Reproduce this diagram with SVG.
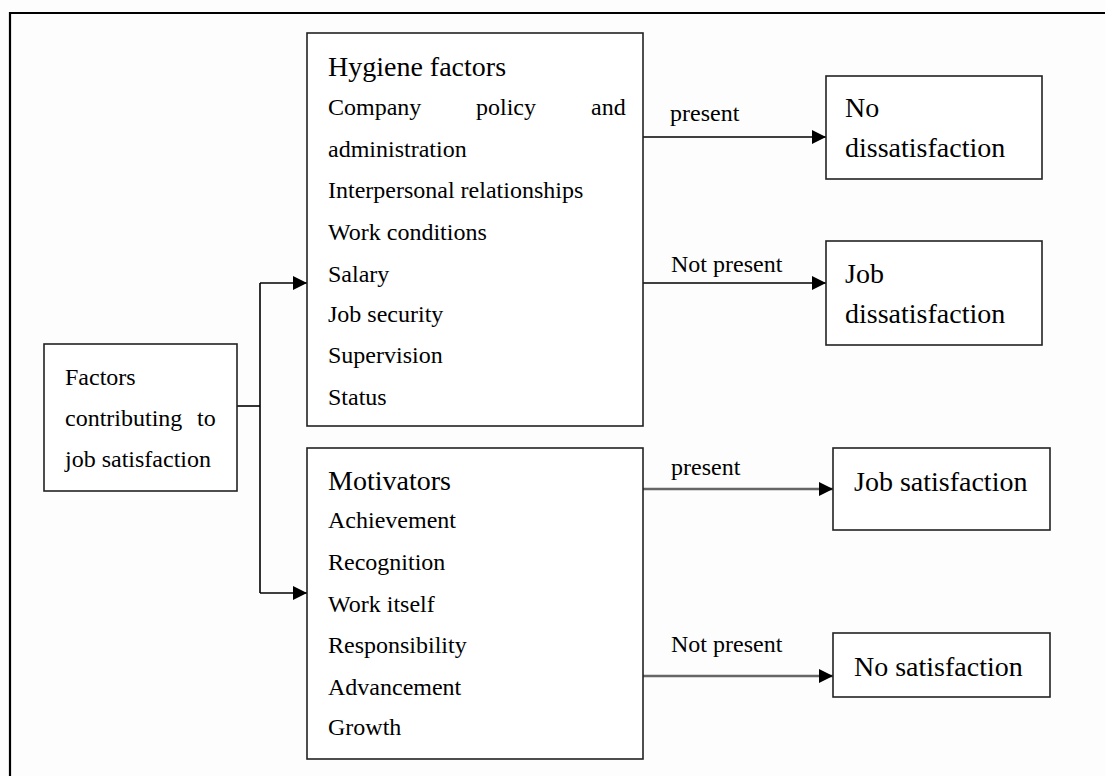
<svg xmlns="http://www.w3.org/2000/svg" width="1105" height="776" viewBox="0 0 1105 776">
<defs>
<marker id="arr" viewBox="0 0 10 10" refX="10" refY="5" markerWidth="14" markerHeight="14" markerUnits="userSpaceOnUse" orient="auto">
<path d="M0,0 L10,5 L0,10 Z" fill="#000"/>
</marker>
<style>
text{font-family:"Liberation Serif","Times New Roman",serif;fill:#000}
.b{font-size:24px}
.h{font-size:28px}
.box{fill:#fff;stroke:#222;stroke-width:1.6}
.c{fill:none;stroke:#000;stroke-width:1.6}
.g{fill:none;stroke:#666;stroke-width:2.4}
</style>
</defs>
<rect width="1105" height="776" fill="#fdfdfd"/>
<polyline points="10,776 10,13 1105,13" fill="none" stroke="#000" stroke-width="2.2"/>

<g id="connectors">
<polyline class="c" points="237,406 260,406"/>
<polyline class="c" points="260,283 260,593"/>
<line class="c" x1="260" y1="283" x2="307" y2="283" marker-end="url(#arr)"/>
<line class="c" x1="260" y1="593" x2="307" y2="593" marker-end="url(#arr)"/>
<line class="c" x1="643" y1="137" x2="826" y2="137" marker-end="url(#arr)"/>
<line class="c" x1="643" y1="283" x2="826" y2="283" marker-end="url(#arr)"/>
<line class="g" x1="643" y1="489" x2="833" y2="489" marker-end="url(#arr)"/>
<line class="g" x1="643" y1="676" x2="833" y2="676" marker-end="url(#arr)"/>
<text class="b" x="670" y="121">present</text>
<text class="b" x="671" y="272">Not present</text>
<text class="b" x="671" y="475">present</text>
<text class="b" x="671" y="652">Not present</text>
</g>

<g id="factors">
<rect class="box" x="44" y="344" width="193" height="147"/>
<text class="b" x="65" y="385">Factors</text>
<text class="b" x="65" y="426">contributing<tspan x="197">to</tspan></text>
<text class="b" x="65" y="467">job satisfaction</text>
</g>

<g id="hygiene">
<rect class="box" x="307" y="33" width="336" height="393"/>
<text class="h" x="328" y="76">Hygiene factors</text>
<text class="b" x="328" y="115">Company<tspan x="476">policy</tspan><tspan x="591">and</tspan></text>
<text class="b" x="328" y="157">administration</text>
<text class="b" x="328" y="198">Interpersonal relationships</text>
<text class="b" x="328" y="240">Work conditions</text>
<text class="b" x="328" y="282">Salary</text>
<text class="b" x="328" y="322">Job security</text>
<text class="b" x="328" y="363">Supervision</text>
<text class="b" x="328" y="405">Status</text>
</g>

<g id="motivators">
<rect class="box" x="307" y="448" width="336" height="311"/>
<text class="h" x="328" y="490">Motivators</text>
<text class="b" x="328" y="528">Achievement</text>
<text class="b" x="328" y="570">Recognition</text>
<text class="b" x="328" y="612">Work itself</text>
<text class="b" x="328" y="653">Responsibility</text>
<text class="b" x="328" y="695">Advancement</text>
<text class="b" x="328" y="735">Growth</text>
</g>

<g id="no-dissatisfaction">
<rect class="box" x="826" y="76" width="216" height="103"/>
<text class="h" x="845" y="117">No</text>
<text class="h" x="845" y="157">dissatisfaction</text>
</g>

<g id="job-dissatisfaction">
<rect class="box" x="826" y="241" width="216" height="104"/>
<text class="h" x="845" y="283">Job</text>
<text class="h" x="845" y="323">dissatisfaction</text>
</g>

<g id="job-satisfaction">
<rect class="box" x="833" y="448" width="217" height="82"/>
<text class="h" x="854" y="491">Job satisfaction</text>
</g>

<g id="no-satisfaction">
<rect class="box" x="833" y="633" width="217" height="64"/>
<text class="h" x="854" y="676">No satisfaction</text>
</g>
</svg>
